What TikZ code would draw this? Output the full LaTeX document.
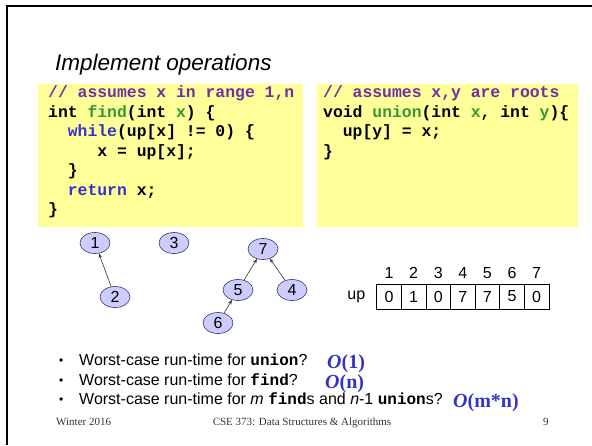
\documentclass[tikz,border=0pt]{standalone}
\usepackage{fontspec}
\setmainfont{Liberation Sans}
\setmonofont{Liberation Mono}
\newfontfamily\timesfont{Liberation Serif}
\usetikzlibrary{positioning,shapes.geometric,arrows.meta}

\definecolor{codeyellow}{HTML}{FFFF99}
\definecolor{cmtpurple}{HTML}{7030A0}
\definecolor{kwblue}{HTML}{3333CC}
\definecolor{fngreen}{HTML}{339933}
\definecolor{nodefill}{HTML}{CCCCFF}
\definecolor{nodeline}{HTML}{333366}
\definecolor{bigoblue}{HTML}{3333CC}

\newcommand{\cmt}[1]{\textcolor{cmtpurple}{#1}}
\newcommand{\kw}[1]{\textcolor{kwblue}{#1}}
\newcommand{\fn}[1]{\textcolor{fngreen}{#1}}
\newcommand{\bigO}[1]{\textit{O}(#1)}

\begin{document}
\begin{tikzpicture}
  [x=1pt,y=-1pt,
   codebox/.style={fill=codeyellow,draw=none},
   codeline/.style={anchor=base west,inner sep=0,font=\ttfamily\bfseries\fontsize{16.4}{19}\selectfont},
   tnode/.style={ellipse,draw=nodeline,fill=nodefill,line width=0.6pt,minimum width=30pt,minimum height=21pt,inner sep=0,font=\fontsize{16}{19}\selectfont},
   treearrow/.style={-{Stealth[length=4.5pt,width=3.5pt]},line width=0.6pt,draw=black!80},
   upcell/.style={draw,line width=0.6pt,minimum width=24.6pt,minimum height=25pt,inner sep=0,font=\fontsize{16}{19}\selectfont},
   idx/.style={inner sep=1pt,font=\fontsize{16}{19}\selectfont},
   bullet/.style={anchor=base west,inner sep=0,font=\fontsize{16}{19}\selectfont},
   bigo/.style={anchor=base west,inner sep=0,text=bigoblue,font=\timesfont\bfseries\fontsize{20}{24}\selectfont},
   footer/.style={inner sep=0,text=black!80,font=\timesfont\fontsize{11}{13}\selectfont}]
  \useasboundingbox (0,0) rectangle (592,445);

  % slide frame
  \draw[line width=2.4pt] (7.2,445) -- (7.2,6) -- (592,6);

  \node[anchor=base west,inner sep=0,font=\itshape\fontsize{22.5}{27}\selectfont] (title) at (55,70) {Implement operations};

  % code boxes
  \fill[codeyellow] (38,84) rectangle (303,227);
  \fill[codeyellow] (317,84) rectangle (578,227);

  \node[codeline] (f1) at (48,97.5)  {\cmt{// assumes x in range 1,n}};
  \node[codeline] (f2) at (48,117)   {int \fn{find}(int \fn{x}) \{};
  \node[codeline] (f3) at (48,136.5) {\ \ \kw{while}(up[x] != 0) \{};
  \node[codeline] (f4) at (48,156)   {\ \ \ \ \ x = up[x];};
  \node[codeline] (f5) at (48,175.5) {\ \ \}};
  \node[codeline] (f6) at (48,195)   {\ \ \kw{return} x;};
  \node[codeline] (f7) at (48,214.5) {\}};

  \node[codeline] (u1) at (323,97.5)  {\cmt{// assumes x,y are roots}};
  \node[codeline] (u2) at (323,117)   {void \fn{union}(int \fn{x}, int \fn{y})\{};
  \node[codeline] (u3) at (323,136.5) {\ \ up[y] = x;};
  \node[codeline] (u4) at (323,156)   {\}};

  % up-trees
  \node[tnode] (n1) at (95,243)  {1};
  \node[tnode] (n3) at (174,243) {3};
  \node[tnode] (n7) at (263,249) {7};
  \node[tnode] (n2) at (115,297) {2};
  \node[tnode] (n5) at (238,290) {5};
  \node[tnode] (n4) at (292,290) {4};
  \node[tnode] (n6) at (218,323) {6};

  \foreach \from/\to in {n2/n1,n5/n7,n4/n7,n6/n5}
    \draw[treearrow] (\from) -- (\to);

  % up array
  \foreach \v [count=\i] in {0,1,0,7,7,5,0} {
    \node[upcell] (c\i) at ({364.4+24.6*\i},296.5) {\v};
    \node[idx,above=4pt of c\i] (i\i) {\i};
  }
  \node[idx,inner sep=0,left=11pt of c1] (uplabel) {up};

  % questions
  \node[bullet,font=\fontsize{12}{14}\selectfont] (d1) at (59,364) {•};
  \node[bullet,font=\fontsize{12}{14}\selectfont] (d2) at (59,384) {•};
  \node[bullet,font=\fontsize{12}{14}\selectfont] (d3) at (59,403) {•};
  \node[bullet] (q1) at (79,365) {Worst-case run-time for \texttt{\bfseries union}?};
  \node[bullet] (q2) at (79,385) {Worst-case run-time for \texttt{\bfseries find}?};
  \node[bullet] (q3) at (79,404) {Worst-case run-time for \textit{m} \texttt{\bfseries find}s and \textit{n}-1 \texttt{\bfseries union}s?};
  \node[bigo] (o1) at (327,368) {\bigO{1}};
  \node[bigo] (o2) at (325,388) {\bigO{n}};
  \node[bigo] (o3) at (453,407) {\bigO{m*n}};

  % footer
  \node[footer,anchor=base west] (fl) at (56,425) {Winter 2016};
  \node[footer,anchor=base] (fc) at (302,425) {CSE 373: Data Structures \& Algorithms};
  \node[footer,anchor=base west] (fr) at (543,425) {9};
\end{tikzpicture}
\end{document}
